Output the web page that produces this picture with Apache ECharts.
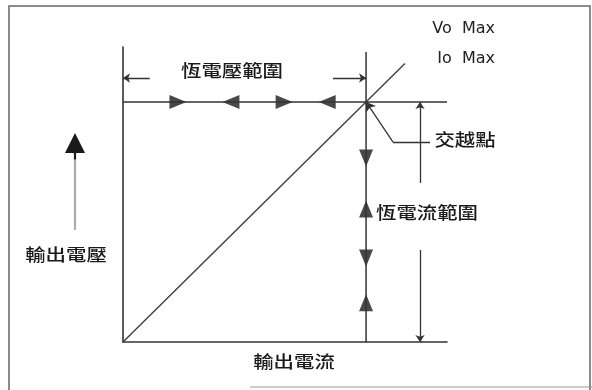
<!DOCTYPE html>
<html>
<head>
<meta charset="utf-8">
<style>
  html, body { margin: 0; padding: 0; background: #fff; }
  #chart { width: 592px; height: 390px; }
</style>
<script src="https://cdn.jsdelivr.net/npm/echarts@6/dist/echarts.min.js"></script>
</head>
<body>
<div id="chart"></div>
<script>
// Crossover point (data units: Io Max = 10, Vo Max = 10)
const ioMax = 10;
const voMax = 10;
const axisMax = [13.33, 12.29];

// Load line through the origin and the crossover point
const loadLine = [[0, 0], [11.6, 11.6]];
// Constant-voltage limit (horizontal) and constant-current limit (vertical)
const cvLine = [[0, voMax], [13.33, voMax]];
const ccLine = [[ioMax, 0], [ioMax, 12.08]];

// Direction triangles along the limits
const cvTriX = [2.26, 4.44, 6.63, 8.4];
const cvTriDir = ['right', 'left', 'right', 'left'];
const ccTriY = [7.67, 5.54, 3.5, 1.63];
const ccTriDir = ['down', 'up', 'down', 'up'];

// Dimension lines: [from, to], arrow at "to"
const cvDims = [[[1.1, 11], [0, 11]], [[8.64, 11], [ioMax, 11]]];
const ccDims = [[[12.22, 6.625], [12.22, voMax]], [[12.22, 3.83], [12.22, 0]]];
// Crossover pointer (leader line ending on the crossover point)
const pointer = [[12.63, 8.33], [11.11, 8.33], [ioMax, voMax]];
// Output voltage arrow on the left: shaft, then head
const vShaft = [[-1.975, 4.67], [-1.975, 7.6]];
const vHead = [[-1.975, 7.6], [-1.975, 8.29]];

const rot = { right: -90, left: 90, up: 0, down: 180 };
const ink = '#333';

const chart = echarts.init(document.getElementById('chart'));

function label(text, x, y){
  return {
    type: 'text', x: x, y: y, scaleX: 1.2,
    style: {
      text: text, fill: '#1a1a1a', align: 'center', verticalAlign: 'middle',
      font: '500 17px "Noto Sans CJK TC", "Noto Sans CJK SC", sans-serif'
    }
  };
}

function latin(text, x, y){
  return {
    type: 'text', x: x, y: y,
    style: {
      text: text, fill: '#222', align: 'right', verticalAlign: 'middle',
      font: '16px "DejaVu Sans", sans-serif'
    }
  };
}

chart.setOption({
  animation: false,
  grid: { left: 123, top: 47, width: 324, height: 295 },
  xAxis: {
    type: 'value', min: 0, max: axisMax[0],
    axisLine: { show: true, lineStyle: { color: ink, width: 1.6 } },
    axisTick: { show: false }, axisLabel: { show: false }, splitLine: { show: false }
  },
  yAxis: {
    type: 'value', min: 0, max: axisMax[1],
    axisLine: { show: true, lineStyle: { color: ink, width: 1.6 } },
    axisTick: { show: false }, axisLabel: { show: false }, splitLine: { show: false }
  },
  graphic: [
    { type: 'polyline', silent: true,
      shape: { points: [[9, 390], [9, 6], [590, 6], [590, 390]] },
      style: { stroke: '#666', lineWidth: 1.5, fill: null } },
    { type: 'line', silent: true,
      shape: { x1: 250, y1: 387, x2: 592, y2: 387 },
      style: { stroke: '#999', lineWidth: 1.2 } },
    latin('Vo  Max', 495, 29),
    latin('Io  Max', 495, 59),
    label('恆電壓範圍', 232, 71),
    label('交越點', 465, 140),
    label('恆電流範圍', 427, 213),
    label('輸出電壓', 66, 255),
    label('輸出電流', 294, 362)
  ],
  series: [
    { type: 'line', data: loadLine, showSymbol: false, silent: true,
      lineStyle: { color: '#444', width: 1.5 } },
    { type: 'line', data: cvLine, showSymbol: false, silent: true,
      lineStyle: { color: ink, width: 1.5 } },
    { type: 'line', data: ccLine, showSymbol: false, silent: true,
      lineStyle: { color: ink, width: 1.5 } },
    { type: 'scatter', silent: true, symbol: 'triangle', symbolSize: [14, 17],
      itemStyle: { color: '#1a1a1a' },
      data: cvTriX.map((x, i) => ({ value: [x, voMax], symbolRotate: rot[cvTriDir[i]] })) },
    { type: 'scatter', silent: true, symbol: 'triangle', symbolSize: [14, 17],
      itemStyle: { color: '#1a1a1a' },
      data: ccTriY.map((y, i) => ({ value: [ioMax, y], symbolRotate: rot[ccTriDir[i]] })) },
    { type: 'lines', coordinateSystem: 'cartesian2d', silent: true,
      symbol: ['none', 'arrow'], symbolSize: 7,
      lineStyle: { color: ink, width: 1.3, opacity: 1 },
      data: cvDims.concat(ccDims).map(c => ({ coords: c })) },
    { type: 'lines', coordinateSystem: 'cartesian2d', silent: true,
      symbol: ['none', 'none'],
      lineStyle: { color: ink, width: 1.3, opacity: 1 },
      data: [{ coords: pointer.slice(0, 2) }] },
    { type: 'lines', coordinateSystem: 'cartesian2d', silent: true,
      symbol: ['none', 'arrow'], symbolSize: 9,
      lineStyle: { color: ink, width: 1.3, opacity: 1 },
      data: [{ coords: pointer.slice(1) }] },
    { type: 'lines', coordinateSystem: 'cartesian2d', silent: true, clip: false,
      symbol: ['none', 'none'],
      lineStyle: { color: '#aaa', width: 2.2, opacity: 1 },
      data: [{ coords: vShaft }] },
    { type: 'lines', coordinateSystem: 'cartesian2d', silent: true, clip: false,
      symbol: ['none', 'triangle'], symbolSize: [15, 20],
      lineStyle: { color: '#1a1a1a', width: 2.2, opacity: 1 },
      data: [{ coords: vHead }] }
  ]
});
</script>
</body>
</html>
